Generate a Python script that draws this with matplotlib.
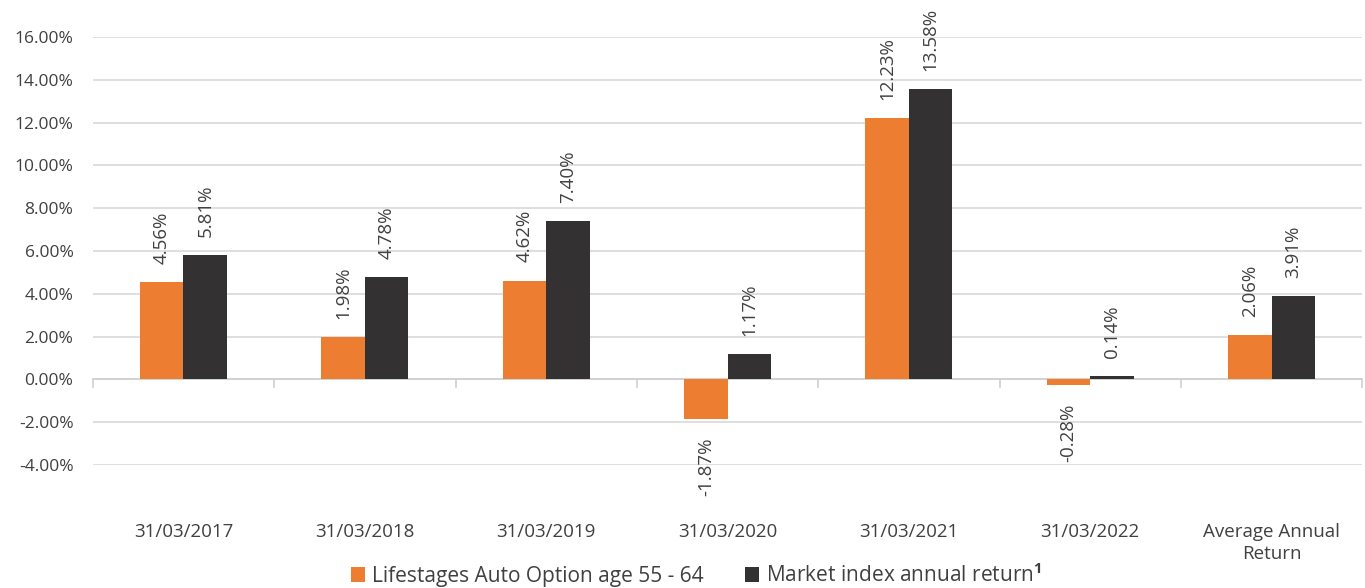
import matplotlib
matplotlib.use("Agg")
import matplotlib.pyplot as plt
import numpy as np
from matplotlib.ticker import FuncFormatter

plt.rcParams['font.family'] = ['Open Sans', 'DejaVu Sans']
plt.rcParams['mathtext.fontset'] = 'custom'
plt.rcParams['mathtext.bf'] = 'Open Sans:bold'

# data
categories = ['31/03/2017', '31/03/2018', '31/03/2019', '31/03/2020',
              '31/03/2021', '31/03/2022', 'Average Annual\nReturn']
lifestages = [4.56, 1.98, 4.62, -1.87, 12.23, -0.28, 2.06]
market = [5.81, 4.78, 7.40, 1.17, 13.58, 0.14, 3.91]
series_names = ['Lifestages Auto Option age 55 - 64',
                'Market index annual return$^{\\mathbf{1}}$']

orange = '#ED7D31'
dark = '#333132'
txt = '#404040'

fig = plt.figure(figsize=(13.65, 5.88), dpi=100)
ax = fig.add_axes([0.068, 1 - 465 / 588, 0.930, (465 - 37) / 588])

x = np.arange(len(categories))
w = 0.24
b1 = ax.bar(x - w / 2, lifestages, w, color=orange, label=series_names[0], zorder=3)
b2 = ax.bar(x + w / 2, market, w, color=dark, label=series_names[1], zorder=3)

for bars, vals in ((b1, lifestages), (b2, market)):
    for r, v in zip(bars, vals):
        cx = r.get_x() + r.get_width() / 2
        if v >= 0:
            ax.annotate(f'{v:.2f}%', (cx, v), xytext=(0, 13), textcoords='offset points',
                        rotation=90, ha='center', va='bottom', fontsize=13.5, color=txt)
        else:
            ax.annotate(f'{v:.2f}%', (cx, v), xytext=(0, -13), textcoords='offset points',
                        rotation=90, ha='center', va='top', fontsize=13.5, color=txt)

ax.set_xlim(-0.5, len(categories) - 0.5)
ax.set_ylim(-4, 16)
ax.set_yticks(np.arange(-4, 17, 2))
ax.yaxis.set_major_formatter(FuncFormatter(lambda v, p: f'{v:.2f}%'))
ax.tick_params(axis='y', length=0, labelsize=12.5, labelcolor=txt, pad=14)
ax.grid(axis='y', color='#D9D9D9', linewidth=1.2, zorder=0)

for s in ax.spines.values():
    s.set_visible(False)
ax.axhline(0, color='#D0D0D0', linewidth=1.2, zorder=2)

# category boundary ticks on the zero line
for bx in np.arange(-0.5, len(categories), 1.0):
    ax.plot([bx, bx], [0, -0.35], color='#D0D0D0', linewidth=1.2, zorder=2, clip_on=False)

ax.set_xticks(x)
ax.set_xticklabels(categories, fontsize=13.5, color=txt, linespacing=1.25)
ax.tick_params(axis='x', length=0, pad=42)

leg = fig.legend(loc='lower center', bbox_to_anchor=(0.51, -0.03), ncol=2, frameon=False,
                 fontsize=15, handlelength=0.7, handleheight=0.7, handletextpad=0.3,
                 columnspacing=2.0, labelcolor=txt)

fig.savefig('out.png', dpi=100)
